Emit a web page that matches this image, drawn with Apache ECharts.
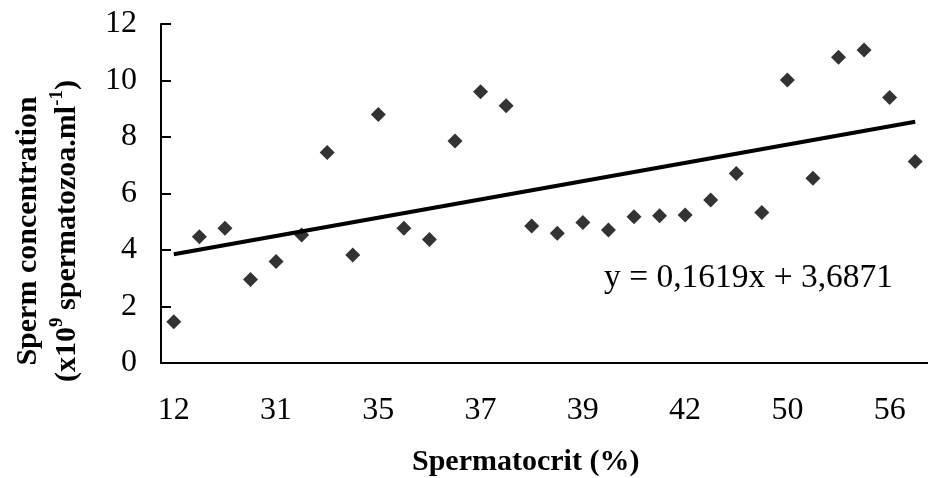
<!DOCTYPE html>
<html>
<head>
<meta charset="utf-8">
<script src="https://cdn.jsdelivr.net/npm/echarts@6/dist/echarts.min.js"></script>
<style>html,body{margin:0;padding:0;background:#fff}#c{width:928px;height:478px}</style>
</head>
<body>
<div id="c"></div>
<script>
// Tick labels shown every 4th sample along the (ordinal) spermatocrit axis
const tickLabels = ['12', '31', '35', '37', '39', '42', '50', '56'];
const samplesPerTick = 4;
// Sperm concentration (x10^9 spermatozoa/ml) per sample, in axis order
const concentration = [1.46, 4.47, 4.77, 2.96, 3.59, 4.53, 7.45, 3.82, 8.80, 4.77,
  4.37, 7.86, 9.60, 9.11, 4.85, 4.59, 4.97, 4.71, 5.18, 5.21,
  5.24, 5.77, 6.71, 5.33, 10.02, 6.54, 10.82, 11.08, 9.40, 7.13];
// Trend line end values (first and last sample), y = 0,1619x + 3,6871
const trendEnds = [3.85, 8.54];
const equationText = 'y = 0,1619x + 3,6871';

const categories = concentration.map((v, i) => i % samplesPerTick === 0 ? (tickLabels[i / samplesPerTick] || '') : '');
const scatterData = concentration.map((v, i) => [i, v]);
const trendData = [[0, trendEnds[0]], [concentration.length - 1, trendEnds[1]]];

const serif = '"Liberation Serif", "Times New Roman", serif';
const chart = echarts.init(document.getElementById('c'), null, {renderer: 'canvas'});
chart.setOption({
  animation: false,
  backgroundColor: '#fff',
  grid: {left: 161, top: 24, right: -10, bottom: 115, containLabel: false},
  xAxis: {
    type: 'category',
    data: categories,
    boundaryGap: true,
    axisLine: {lineStyle: {color: '#000', width: 2}},
    axisTick: {inside: true, length: 10, interval: samplesPerTick - 1, lineStyle: {color: '#000', width: 2}},
    axisLabel: {interval: 0, margin: 32, color: '#000', fontFamily: serif, fontSize: 32},
    splitLine: {show: false}
  },
  yAxis: {
    type: 'value', min: 0, max: 12, interval: 2,
    axisLine: {show: true, lineStyle: {color: '#000', width: 2}},
    axisTick: {show: true, inside: true, length: 10, lineStyle: {color: '#000', width: 2}},
    axisLabel: {margin: 24, color: '#000', fontFamily: serif, fontSize: 32},
    splitLine: {show: false}
  },
  series: [
    {
      type: 'scatter', data: scatterData, symbol: 'diamond', symbolSize: [15, 15],
      itemStyle: {color: '#000'}, z: 3
    },
    {
      type: 'line', data: trendData, showSymbol: false, symbol: 'none',
      lineStyle: {color: '#000', width: 4}, z: 2
    }
  ],
  graphic: [
    {type: 'text', left: 604, top: 261, style: {text: equationText, fill: '#000', font: '33.5px ' + serif}},
    {type: 'text', left: 412, top: 447, style: {text: 'Spermatocrit (%)', fill: '#000', font: 'bold 30px ' + serif}},
    {
      type: 'text', x: 48, y: 231, rotation: Math.PI / 2,
      style: {
        text: '{b|Sperm concentration}\n{b|(x10}{sup|9}{b| spermatozoa.ml}{sup|-1}{b|)}',
        align: 'center', verticalAlign: 'middle', fill: '#000',
        rich: {
          b: {fontFamily: serif, fontWeight: 'bold', fontSize: 30, lineHeight: 39, fill: '#000', align: 'center'},
          sup: {fontFamily: serif, fontWeight: 'bold', fontSize: 19, lineHeight: 39, verticalAlign: 'top', padding: [0, 0, 14, 0], fill: '#000'}
        }
      }
    }
  ]
});
</script>
</body>
</html>
